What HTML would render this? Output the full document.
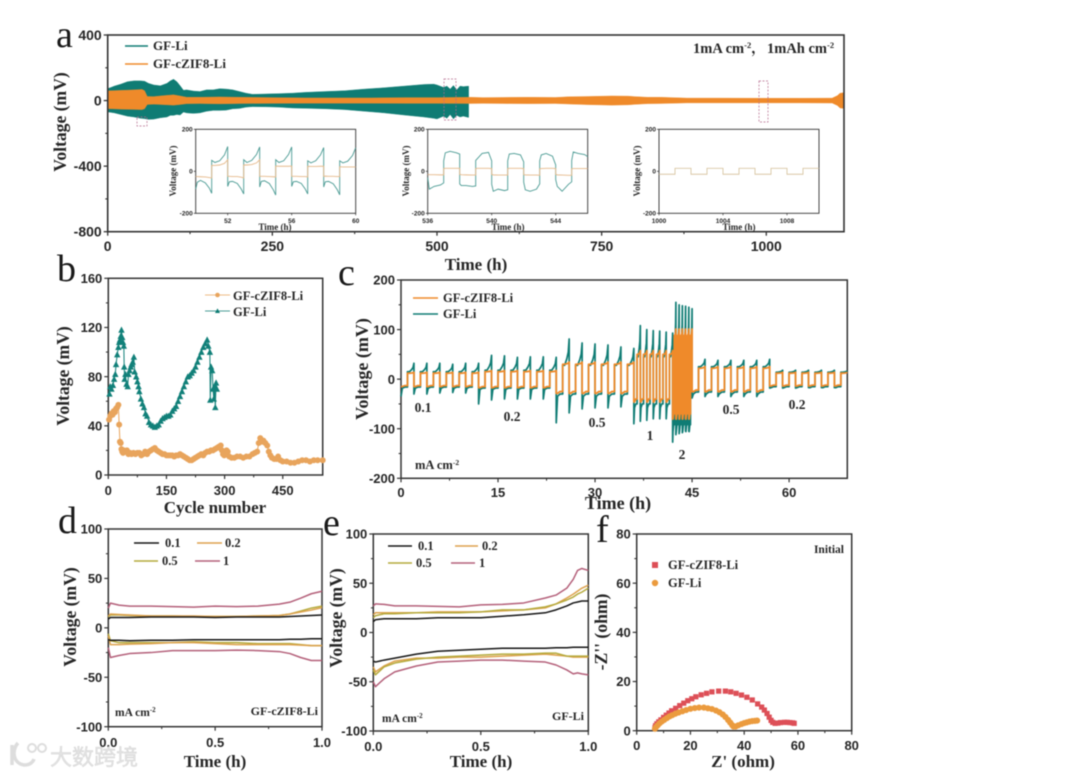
<!DOCTYPE html>
<html lang="en">
<head>
<meta charset="utf-8">
<title>Voltage profiles of GF-Li and GF-cZIF8-Li</title>
<style>
html,body{margin:0;padding:0;background:#fff}
svg{display:block;filter:blur(0.5px)}
.s{font-family:"Liberation Serif","Noto Serif CJK SC",serif;font-weight:bold;fill:#262626}
.letter{font-family:"Liberation Serif",serif;font-weight:normal;font-size:38px;fill:#1a1a1a}
.axt{font-size:17px}
.axy{font-size:17.6px}
.leg{font-size:12.5px}
.rate{font-size:13.5px}
.ins{font-size:9px}
</style>
</head>
<body>
<svg id="fig" width="1080" height="778" viewBox="0 0 1080 778" xmlns="http://www.w3.org/2000/svg">
<rect width="1080" height="778" fill="#fff"/>
<g id="layer"></g>

<text class="letter" x="56" y="47">a</text>
<text class="letter" x="57" y="281">b</text>
<text class="letter" x="338" y="285">c</text>
<text class="letter" x="58" y="533">d</text>
<text class="letter" x="323" y="535">e</text>
<text class="letter" x="596" y="542">f</text>

<!-- panel a text -->
<text class="s axy" transform="translate(66,122) rotate(-90)" text-anchor="middle">Voltage (mV)</text>
<text class="s axt" x="476" y="270" text-anchor="middle">Time (h)</text>
<line x1="125" x2="148" y1="46" y2="46" stroke="#0f7c74" stroke-width="1.5"/>
<text class="s" font-size="13" x="153" y="50">GF-Li</text>
<line x1="125" x2="148" y1="64" y2="64" stroke="#ef8a2a" stroke-width="1.5"/>
<text class="s" font-size="13" x="153" y="68">GF-cZIF8-Li</text>
<text class="s" font-size="14.5" x="693" y="53">1mA cm<tspan font-size="8.5" dy="-5">-2</tspan><tspan dy="5">，</tspan></text>
<text class="s" font-size="14.5" x="767" y="53">1mAh cm<tspan font-size="8.5" dy="-5">-2</tspan></text>

<text class="s ins" transform="translate(176,171) rotate(-90)" text-anchor="middle">Voltage (mV)</text>
<text class="s ins" x="275" y="230" text-anchor="middle">Time (h)</text>
<text class="s ins" transform="translate(409,171) rotate(-90)" text-anchor="middle">Voltage (mV)</text>
<text class="s ins" x="508" y="230" text-anchor="middle">Time (h)</text>
<text class="s ins" transform="translate(640,171) rotate(-90)" text-anchor="middle">Voltage (mV)</text>
<text class="s ins" x="739" y="230" text-anchor="middle">Time (h)</text>

<!-- panel b text -->
<text class="s axy" transform="translate(69,376) rotate(-90)" text-anchor="middle">Voltage (mV)</text>
<text class="s axt" x="215" y="513" text-anchor="middle">Cycle number</text>
<text class="s leg" x="233" y="300">GF-cZIF8-Li</text>
<text class="s leg" x="233" y="316">GF-Li</text>

<!-- panel c text -->
<text class="s" font-size="18" transform="translate(368,369) rotate(-90)" text-anchor="middle">Voltage (mV)</text>
<text class="s" font-size="18" x="618" y="509" text-anchor="middle">Time (h)</text>
<line x1="413" x2="438" y1="298" y2="298" stroke="#ef8a2a" stroke-width="1.6"/>
<text class="s leg" x="443" y="302">GF-cZIF8-Li</text>
<line x1="413" x2="438" y1="314" y2="314" stroke="#0f7c74" stroke-width="1.6"/>
<text class="s leg" x="443" y="318">GF-Li</text>
<text class="s rate" text-anchor="middle" x="423" y="412">0.1</text>
<text class="s rate" text-anchor="middle" x="512" y="421">0.2</text>
<text class="s rate" text-anchor="middle" x="597" y="427">0.5</text>
<text class="s rate" text-anchor="middle" x="650" y="440">1</text>
<text class="s rate" text-anchor="middle" x="682" y="459">2</text>
<text class="s rate" text-anchor="middle" x="731" y="414">0.5</text>
<text class="s rate" text-anchor="middle" x="797" y="409">0.2</text>
<text class="s" font-size="12.5" x="415" y="469">mA cm<tspan font-size="7.5" dy="-4">-2</tspan></text>

<!-- panel d text -->
<text class="s axy" transform="translate(76,617) rotate(-90)" text-anchor="middle">Voltage (mV)</text>
<text class="s axt" x="215" y="767" text-anchor="middle">Time (h)</text>
<line x1="134" x2="159" y1="543" y2="543" stroke="#161616" stroke-width="1.6"/>
<text class="s leg" x="165" y="547">0.1</text>
<line x1="197" x2="222" y1="543" y2="543" stroke="#dda24e" stroke-width="1.6"/>
<text class="s leg" x="225" y="547">0.2</text>
<line x1="134" x2="158" y1="561" y2="561" stroke="#b5aa3c" stroke-width="1.6"/>
<text class="s leg" x="162" y="565">0.5</text>
<line x1="195" x2="220" y1="561" y2="561" stroke="#b4607a" stroke-width="1.6"/>
<text class="s leg" x="223" y="565">1</text>
<text class="s" font-size="11.5" x="115" y="716">mA cm<tspan font-size="7" dy="-4">-2</tspan></text>
<text class="s" font-size="12" x="318" y="715" text-anchor="end">GF-cZIF8-Li</text>

<!-- panel e text -->
<text class="s axy" transform="translate(342,618) rotate(-90)" text-anchor="middle">Voltage (mV)</text>
<text class="s axt" x="481" y="767" text-anchor="middle">Time (h)</text>
<line x1="388" x2="412" y1="546" y2="546" stroke="#161616" stroke-width="1.6"/>
<text class="s leg" x="418" y="550">0.1</text>
<line x1="455" x2="478" y1="546" y2="546" stroke="#dda24e" stroke-width="1.6"/>
<text class="s leg" x="482" y="550">0.2</text>
<line x1="388" x2="412" y1="563" y2="563" stroke="#b5aa3c" stroke-width="1.6"/>
<text class="s leg" x="416" y="567">0.5</text>
<line x1="451" x2="475" y1="563" y2="563" stroke="#b4607a" stroke-width="1.6"/>
<text class="s leg" x="479" y="567">1</text>
<text class="s" font-size="11.5" x="382" y="722">mA cm<tspan font-size="7" dy="-4">-2</tspan></text>
<text class="s" font-size="12" x="584" y="720" text-anchor="end">GF-Li</text>

<!-- panel f text -->
<text class="s axy" transform="translate(607,632) rotate(-90)" text-anchor="middle">-Z'' (ohm)</text>
<text class="s axt" x="743" y="767" text-anchor="middle">Z' (ohm)</text>
<text class="s leg" x="668" y="569">GF-cZIF8-Li</text>
<text class="s leg" x="668" y="587">GF-Li</text>
<rect x="652" y="562" width="6" height="6" fill="#dd4f57"/>
<circle cx="655" cy="583" r="3.2" fill="#eb9b3e"/>
<text class="s" font-size="11.5" x="844" y="553" text-anchor="end">Initial</text>

<!-- watermark -->
<g opacity="0.95">
  <path d="M12 745 v20 M18 743 c-6 6 -6 20 6 22 c6 0 9 -3 10 -6" fill="none" stroke="#dcdcdc" stroke-width="3.5"/>
  <circle cx="32" cy="748" r="4" fill="none" stroke="#dcdcdc" stroke-width="2"/>
  <circle cx="42" cy="748" r="4" fill="none" stroke="#dcdcdc" stroke-width="2"/>
  <text x="50" y="765" font-size="22" fill="#e2e2e2" stroke="#d2d2d2" stroke-width="0.4" font-family="'Liberation Sans','Noto Sans CJK SC',sans-serif">大数跨境</text>
</g>
</svg>

<script>
// ---- panel a: envelope of the long cycling traces ----
const aTealTime = [0,5,10,20,30,40,50,56,62,70,80,90,95,100,105,110,115,120,130,140,150,160,170,180,190,200,210,220,240,260,280,300,330,360,390,420,450,480,495,500,510,515,520,525,530,535,540,548];
const aTealUpper = [73,80,88,100,115,120,120,118,105,95,90,105,120,130,115,90,63,65,58,55,65,65,72,70,65,55,45,38,40,42,45,50,55,60,70,78,88,98,100,95,80,88,70,92,65,88,85,88];
const aTealLower = [-69,-72,-75,-85,-95,-100,-108,-110,-115,-113,-105,-100,-90,-90,-85,-88,-70,-75,-78,-75,-65,-60,-60,-58,-50,-48,-40,-37,-38,-40,-45,-47,-50,-55,-65,-75,-88,-100,-108,-112,-95,-108,-85,-112,-90,-100,-95,-103];
const aOrangeTime = [0,20,40,52,56,60,70,85,100,110,120,140,170,200,250,300,350,400,450,500,550,570,600,640,680,700,730,765,790,800,820,840,880,930,1000,1050,1100,1108,1112,1118];
const aOrangeUpper = [59,62,65,68,60,25,24,30,35,28,20,20,22,20,18,16,16,16,18,18,20,18,19,20,19,23,25,28,27,24,20,20,15,15,14,14,15,30,45,48];
const aOrangeLower = [-49,-52,-54,-55,-50,-24,-22,-25,-28,-24,-19,-18,-20,-18,-17,-16,-16,-16,-17,-17,-18,-17,-18,-19,-18,-21,-25,-28,-26,-23,-19,-18,-14,-14,-14,-14,-15,-30,-45,-48];
const aXTicks = [0,250,500,750,1000];
const aYTicks = [-800,-400,0,400];

// ---- panel a insets ----
const i1Time = [50,50.1,50.3,50.6,50.85,51,51,51.2,51.5,51.8,52,52,52.1,52.3,52.6,52.85,53,53,53.2,53.5,53.8,54,54,54.1,54.3,54.6,54.85,55,55,55.2,55.5,55.8,56,56,56.1,56.3,56.6,56.85,57,57,57.2,57.5,57.8,58,58,58.1,58.3,58.6,58.85,59,59,59.2,59.5,59.8,60];
const i1Teal = [-85,-52,-43,-55,-80,-105,52,42,50,78,118,-72,-50,-48,-58,-85,-108,55,42,52,80,116,-75,-48,-45,-58,-88,-113,55,42,50,80,116,-72,-50,-48,-58,-85,-108,50,40,50,78,113,-75,-50,-48,-60,-88,-112,50,40,48,75,112];
const i1Orange = [-25,-25,-26,-27,-30,-32,28,28,30,38,55,-24,-24,-25,-25,-28,-32,30,30,32,40,55,-24,-24,-24,-25,-26,-27,25,24,24,24,25,-24,-24,-24,-25,-25,-27,24,23,23,24,24,-24,-23,-24,-24,-25,-25,22,21,21,21,21];
const i2Time = [536,536.1,536.4,536.8,537,537,537.1,537.4,537.8,538,538,538.1,538.4,538.8,539,539,539.1,539.4,539.8,540,540,540.1,540.4,540.8,541,541,541.1,541.4,541.8,542,542,542.1,542.4,542.8,543,543,543.1,543.4,543.8,544,544,544.1,544.4,544.8,545,545,545.1,545.4,545.8,546];
const i2Teal = [-30,-85,-72,-65,-55,50,88,95,88,82,-60,-68,-68,-72,-70,52,60,85,90,50,-62,-95,-85,-92,-88,50,82,85,78,45,-52,-88,-95,-85,-60,50,78,85,72,30,-40,-72,-95,-62,-50,52,92,85,80,70];
const i2Orange = [-15,-16,-16,-17,-17,13,14,14,14,14,-15,-16,-17,-18,-18,13,14,14,14,13,-15,-17,-18,-18,-18,13,14,14,14,13,-16,-17,-18,-18,-19,12,13,14,14,13,-15,-17,-18,-19,-19,12,13,13,13,13];
const i3Time = [1000,1001,1001,1002,1002,1003,1003,1004,1004,1005,1005,1006,1006,1007,1007,1008,1008,1009,1009,1010];
const i3Orange = [-14,-14,14,14,-14,-14,14,14,-14,-14,14,14,-14,-14,14,14,-14,-14,14,14];
const inset1XTicks = [52,56,60];
const inset2XTicks = [536,540,544];
const inset3XTicks = [1000,1004,1008];
const insetYTicks = [-200,0,200];

// ---- panel b: voltage hysteresis vs cycle ----
const bLiCycle = [3,5,8,12,15,18,20,23,26,28,30,32,34,36,38,40,41,42,44,47,50,52,55,58,60,63,66,68,72,75,78,80,84,88,92,96,100,105,110,115,120,125,130,135,140,145,150,155,160,165,170,175,180,185,190,195,200,205,210,215,220,225,230,235,240,245,250,255,258,262,263,265,268,270,272,274,276,278,280];
const bLiVoltage = [66,72,70,73,78,82,90,98,104,108,110,113,118,112,108,105,88,78,82,74,72,82,85,88,90,92,96,84,80,76,72,68,62,58,55,50,48,43,41,40,39,40,41,44,46,47,48,48,49,52,54,56,60,64,68,72,76,80,81,83,85,88,92,96,100,104,107,110,105,100,61,88,85,70,62,72,55,75,70];
const bZifCycle = [2,5,8,11,14,17,20,23,26,28,30,32,34,36,38,40,44,48,52,56,60,65,70,75,80,85,90,95,100,105,110,115,120,125,130,135,140,145,150,155,160,165,170,175,180,185,190,195,200,205,210,215,220,225,230,235,240,245,250,255,260,265,270,275,280,285,290,293,296,299,302,305,308,312,318,325,332,340,348,356,364,372,378,384,388,392,396,400,405,410,414,418,422,428,434,438,444,450,460,470,480,490,500,510,520,530,540,553];
const bZifVoltage = [45,48,50,49,52,51,54,55,57,41,27,26,21,19,18,20,19,20,17,18,17,18,17,18,18,16,17,19,17,19,20,21,22,20,19,18,17,17,16,16,16,16,15,16,16,17,16,15,14,13,12,12,13,14,15,16,17,16,18,19,19,20,20,21,22,23,24,20,17,16,18,20,19,15,14,14,15,15,14,15,15,17,18,19,26,30,27,28,26,24,19,16,14,13,13,15,12,11,11,10,10,11,12,12,11,12,12,12];
const bXTicks = [0,150,300,450];
const bYTicks = [0,40,80,120,160];

// ---- panel c: rate test, one entry per charge/discharge cycle ----
const cCycleStart = [0,2,4,6,8,10,12,14,16,18,20,22,24,26,28,30,32,34,36,37,38,39,40,41,42,42.5,43,43.5,44,44.5,45,47,49,51,53,55,57,59,61,63,65,67];
const cTealPeak = [32,32,32,30,32,32,48,47,44,45,45,44,81,73,71,69,65,62,108,100,98,97,95,93,155,150,148,147,145,142,40,38,38,38,38,40,18,18,18,18,18,17];
const cTealTrough = [-35,-30,-30,-28,-27,-28,-50,-42,-40,-40,-40,-40,-88,-68,-60,-58,-58,-56,-90,-85,-83,-80,-80,-80,-127,-112,-110,-108,-105,-105,-38,-35,-35,-35,-35,-35,-18,-18,-18,-17,-17,-17];
const cTealUpper = [15,15,15,15,15,15,18,18,18,18,18,18,28,28,28,28,28,28,45,45,45,45,45,45,72,72,72,72,72,72,25,25,25,25,25,25,14,14,14,14,14,14];
const cTealLower = [-16,-16,-16,-16,-16,-16,-18,-18,-18,-18,-18,-18,-30,-30,-30,-30,-30,-30,-50,-50,-50,-50,-50,-50,-92,-92,-92,-92,-92,-92,-26,-26,-26,-26,-26,-26,-15,-15,-15,-15,-15,-15];
const cZifUpper = [12,12,12,12,12,12,15,15,15,15,15,15,30,30,30,30,30,30,50,50,50,50,50,50,88,88,88,88,88,88,22,22,22,22,22,22,12,12,12,12,12,12];
const cZifLower = [-13,-13,-13,-13,-13,-13,-15,-15,-15,-15,-15,-15,-25,-25,-25,-25,-25,-25,-40,-40,-40,-40,-40,-40,-70,-70,-70,-70,-70,-70,-22,-22,-22,-22,-22,-22,-12,-12,-12,-12,-12,-12];
const cEndTime = 69;
const cXTicks = [0,15,30,45,60];
const cYTicks = [-200,-100,0,100,200];

// ---- panel d: GF-cZIF8-Li single-cycle voltage curves ----
const dTime = [0,0.01,0.05,0.1,0.2,0.3,0.4,0.5,0.6,0.7,0.8,0.85,0.9,0.95,1];
const d01Up = [9,10.5,10.5,10.5,11,11,11,10.5,11,11,11,11.5,12,12.5,13];
const d01Low = [-12,-12.5,-12.5,-13,-12.5,-12.5,-12,-12,-12,-12,-12,-11.5,-11.5,-11,-11];
const d02Up = [12,14,13.5,13,12,12,12,11.5,11.5,12,12.5,14,16,18,20.5];
const d02Low = [-8,-17,-17,-16.5,-16,-15,-15,-16,-17,-17,-17,-17,-17.5,-18,-18];
const d05Up = [11,13,13,12.5,12,12,11.5,11.5,11.5,12,12.5,14,17,20,22];
const d05Low = [-6,-13,-15,-15,-15,-15,-14,-15,-15,-16,-16,-16,-17,-18,-18];
const d1Up = [20,25,23,22,22,21.5,21,22,21.5,22,24,26,30,34.5,37];
const d1Low = [-20,-30,-28,-26,-25,-23,-23,-23,-22.5,-23,-24,-26,-30,-33,-33];
const dXTicks = ['0.0','0.5','1.0'];
const dYTicks = [-100,-50,0,50,100];

// ---- panel e: GF-Li single-cycle voltage curves ----
const eTime = [0,0.01,0.05,0.1,0.2,0.3,0.4,0.5,0.6,0.7,0.8,0.85,0.9,0.93,0.95,0.97,1];
const e01Up = [11,13,14,14,14,15,15,15,16.5,18,20,23,27,30,31,32,32];
const e01Low = [-29,-30,-28,-26,-22,-19,-18,-17,-16,-16,-16,-15.5,-15.5,-15,-15,-15,-15];
const e02Up = [18,20,20,20,20,21,21,21,22,23,25,29,35,39,42,45,48];
const e02Low = [-35,-40,-34,-29,-26,-26,-25,-25,-24,-23,-22,-23,-24,-25,-25,-25,-25];
const e05Up = [15,17,19,19,20,20,20,21,23,23,26,29,33,36,39,41,45];
const e05Low = [-38,-43,-35,-31,-27,-25,-24,-23,-22,-22,-21,-21,-24,-24,-24,-24,-24];
const e1Up = [27,29,28.5,27,27,26.5,26,28,28.5,30,35,38,45,54,63,65,63];
const e1Low = [-50,-55,-47,-40,-34,-30,-29,-28,-28,-29,-30,-33,-38,-42,-41,-42,-43];
const eXTicks = ['0.0','0.5','1.0'];
const eYTicks = [-100,-50,0,50,100];

// ---- panel f: Nyquist plot ----
const fZifRe = [6.8,7,7.5,8.2,9,10,11,12,13,14.5,16,17.5,19,20.5,22,24,26,28,30.5,33,35,37,39,41,43,45,46.5,47.5,48.5,49.3,50,50.6,51.5,52.5,53.5,55,56,57,58,58.6];
const fZifIm = [1.2,2,2.8,3.6,4.4,5.4,6.3,7.2,8.1,9.1,10.2,11.2,12.2,13,13.8,14.6,15.2,15.8,16.1,16.1,15.8,15.2,14.5,13.6,12.5,10.9,9.6,8.4,7,5.5,4.2,3.4,3,3.1,3.3,3.4,3.4,3.3,3.2,3];
const fLiRe = [6.8,7.2,7.8,8.5,9.3,10.2,11.2,12.2,13.2,14.4,15.6,17,18.4,20,21.6,23.2,25,26.5,28,29.5,30.8,32,33,34,34.8,35.5,36,36.8,37.8,39,40,41,42,43,44,44.8];
const fLiIm = [0.8,1.5,2.2,3,3.7,4.4,5.1,5.8,6.3,6.9,7.4,7.9,8.4,8.9,9.2,9.4,9.4,9.1,8.8,8.2,7.5,6.6,5.6,4.4,3.3,2.3,1.7,1.7,2.2,2.7,3.1,3.4,3.7,3.9,4,4.1];
const fTicks = [0,20,40,60,80];

const SVGNS = 'http://www.w3.org/2000/svg';
const layer = document.getElementById('layer');

function mk(tag, attrs, name, parent) {
  const el = document.createElementNS(SVGNS, tag);
  for (const k in attrs) el.setAttribute(k, attrs[k]);
  
  
  (parent || layer).appendChild(el);
  return el;
}

function axes(c) {
  const sx = v => c.l + (v - c.xMin) / (c.xMax - c.xMin) * (c.r - c.l);
  const sy = v => c.b - (v - c.yMin) / (c.yMax - c.yMin) * (c.b - c.t);
  const g = mk('g', {}, c.id + '-axes');
  const sw = c.sw || 1.5;
  const tl = c.tick || 4;
  const num = v => Number(v);
  c.xt.forEach((v, i) => {
    const n = num(v);
    mk('line', {x1: sx(n), x2: sx(n), y1: c.b, y2: c.b + tl, stroke: '#333', 'stroke-width': sw * 0.8}, c.id + '-x-tick', g);
    const lab = mk('text', {x: sx(n), y: c.xLabelY, 'text-anchor': 'middle', 'font-size': c.fs, 'font-weight': 'bold', 'font-family': '"Liberation Sans",sans-serif', fill: '#262626'}, c.id + '-x-tick-label', g);
    lab.textContent = v;
    if (i < c.xt.length - 1 && !c.noMinor) {
      const m = (n + num(c.xt[i + 1])) / 2;
      mk('line', {x1: sx(m), x2: sx(m), y1: c.b, y2: c.b + tl * 0.6, stroke: '#333', 'stroke-width': sw * 0.7}, c.id + '-x-minor-tick', g);
    }
  });
  c.yt.forEach((v, i) => {
    mk('line', {x1: c.l - tl, x2: c.l, y1: sy(v), y2: sy(v), stroke: '#333', 'stroke-width': sw * 0.8}, c.id + '-y-tick', g);
    const lab = mk('text', {x: c.l - tl - (c.pad === undefined ? 2 : c.pad), y: sy(v) + c.fs * 0.36, 'text-anchor': 'end', 'font-size': c.fs, 'font-weight': 'bold', 'font-family': '"Liberation Sans",sans-serif', fill: '#262626'}, c.id + '-y-tick-label', g);
    lab.textContent = v;
    if (i < c.yt.length - 1 && !c.noMinor) {
      const m = (v + c.yt[i + 1]) / 2;
      mk('line', {x1: c.l - tl * 0.6, x2: c.l, y1: sy(m), y2: sy(m), stroke: '#333', 'stroke-width': sw * 0.7}, c.id + '-y-minor-tick', g);
    }
  });
  mk('rect', {x: c.l, y: c.t, width: c.r - c.l, height: c.b - c.t, fill: 'none', stroke: '#333', 'stroke-width': sw}, c.id + '-frame', g);
  return {x: sx, y: sy};
}

function linePath(xs, ys, ax) {
  let d = '';
  xs.forEach((v, i) => { d += (i ? 'L' : 'M') + ax.x(v).toFixed(2) + ' ' + ax.y(ys[i]).toFixed(2); });
  return d;
}
function bandPath(xs, up, low, ax) {
  let d = linePath(xs, up, ax);
  for (let i = xs.length - 1; i >= 0; i--) d += 'L' + ax.x(xs[i]).toFixed(2) + ' ' + ax.y(low[i]).toFixed(2);
  return d + 'Z';
}

// ---------- panel a ----------
const aAx = {x: null, y: null};
(function () {
  const cfg = {id:'a', l:107.7, r:844, t:35, b:231.7, xMin:0, xMax:1118, yMin:-800, yMax:400, xt:aXTicks, yt:aYTicks, xLabelY:251, fs:14, sw:1.6};
  const sx = v => cfg.l + v / cfg.xMax * (cfg.r - cfg.l);
  const sy = v => cfg.b - (v + 800) / 1200 * (cfg.b - cfg.t);
  aAx.x = sx; aAx.y = sy;
  mk('path', {d: bandPath(aTealTime, aTealUpper, aTealLower, aAx), fill: '#0f7c74', stroke: '#0f7c74', 'stroke-width': 0.4}, 'a-series-gf-li');
  mk('path', {d: bandPath(aOrangeTime, aOrangeUpper, aOrangeLower, aAx), fill: '#ef8a2a', stroke: '#ef8a2a', 'stroke-width': 0.4}, 'a-series-gf-czif8-li');
  const boxes = [[137,117,10,9],[444,79,12,41],[759,81,9,41]];
  boxes.forEach(b => {
    mk('rect', {x:b[0], y:b[1], width:b[2], height:b[3], fill:'none', stroke:'#b4688c', 'stroke-width':0.7, 'stroke-dasharray':'2 1.5'}, 'a-zoom-region-box');
  });
  axes(cfg);
})();

function inset(id, l, xMin, xTicks, series) {
  const ax = axes({id:id, l:l, r:l+160, t:129.3, b:213.3, xMin:xMin, xMax:xMin+10, yMin:-200, yMax:200, xt:xTicks, yt:insetYTicks, xLabelY:223, fs:6.5, sw:0.9, tick:2, pad:1, noMinor:true});
  series.forEach(s => {
    mk('path', {d: linePath(s.x, s.y, ax), fill:'none', stroke:s.c, 'stroke-width':0.9}, id + '-' + s.n);
  });
}
inset('inset1', 195.7, 50, inset1XTicks, [{x:i1Time,y:i1Teal,c:'#4a9a93',n:'series-gf-li'},{x:i1Time,y:i1Orange,c:'#e6b98a',n:'series-gf-czif8-li'}]);
inset('inset2', 427.7, 536, inset2XTicks, [{x:i2Time,y:i2Teal,c:'#4a9a93',n:'series-gf-li'},{x:i2Time,y:i2Orange,c:'#e6b98a',n:'series-gf-czif8-li'}]);
inset('inset3', 659, 1000, inset3XTicks, [{x:i3Time,y:i3Orange,c:'#d9c6a4',n:'series-gf-czif8-li'}]);

// ---------- panel b ----------
(function () {
  const ax = axes({id:'b', l:108.3, r:322.7, t:278.3, b:475, xMin:0, xMax:553, yMin:0, yMax:160, xt:bXTicks, yt:bYTicks, xLabelY:495, fs:13, sw:1.5});
  mk('path', {d: linePath(bLiCycle, bLiVoltage, ax), fill:'none', stroke:'#118079', 'stroke-width':1}, 'b-line-gf-li');
  bLiCycle.forEach((c, i) => {
    const x = ax.x(c), y = ax.y(bLiVoltage[i]);
    mk('path', {d:`M${x.toFixed(2)} ${(y-3.4).toFixed(2)}l3.2 6.2h-6.4z`, fill:'#118079'}, 'b-point-gf-li');
  });
  mk('path', {d: linePath(bZifCycle, bZifVoltage, ax), fill:'none', stroke:'#e8a45c', 'stroke-width':1}, 'b-line-gf-czif8-li');
  bZifCycle.forEach((c, i) => {
    mk('circle', {cx: ax.x(c), cy: ax.y(bZifVoltage[i]), r: 3, fill:'#e8a45c'}, 'b-point-gf-czif8-li');
  });
  mk('line', {x1:205, x2:230, y1:295, y2:295, stroke:'#e8a45c', 'stroke-width':0.7}, 'b-legend-line-gf-czif8-li');
  mk('circle', {cx:217.5, cy:295, r:2.3, fill:'#e8a45c'}, 'b-legend-marker-gf-czif8-li');
  mk('line', {x1:205, x2:230, y1:311, y2:311, stroke:'#0f7c74', 'stroke-width':0.7}, 'b-legend-line-gf-li');
  mk('path', {d:'M217.5 308.4l2.5 4.6h-5z', fill:'#0f7c74'}, 'b-legend-marker-gf-li');
})();

// ---------- panel c ----------
function cyclePath(peak, trough, up, low, ax) {
  let d = '';
  cCycleStart.forEach((t0, i) => {
    const t1 = i + 1 < cCycleStart.length ? cCycleStart[i + 1] : cEndTime;
    const w = t1 - t0;
    const pts = [
      [t0, trough[i]], [t0 + 0.1 * w, low[i] * 1.15], [t0 + 0.3 * w, low[i]], [t0 + 0.5 * w, low[i]],
      [t0 + 0.5 * w, up[i]], [t0 + 0.65 * w, up[i]], [t0 + 0.82 * w, (up[i] * 3 + peak[i]) / 4],
      [t0 + 0.93 * w, (up[i] + peak[i]) / 2], [t1, peak[i]]
    ];
    pts.forEach((p, j) => { d += (i === 0 && j === 0 ? 'M' : 'L') + ax.x(p[0]).toFixed(2) + ' ' + ax.y(p[1]).toFixed(2); });
  });
  return d;
}
(function () {
  const ax = axes({id:'c', l:401, r:847.3, t:280, b:478.3, xMin:0, xMax:69, yMin:-200, yMax:200, xt:cXTicks, yt:cYTicks, xLabelY:497, fs:13, sw:1.5});
  mk('path', {d: cyclePath(cTealPeak, cTealTrough, cTealUpper, cTealLower, ax), fill:'none', stroke:'#0f7c74', 'stroke-width':1.7, 'stroke-linejoin':'round'}, 'c-series-gf-li');
  const zifPeak = cZifUpper.map(v => v * 1.15);
  const zifTrough = cZifLower.map(v => v * 1.15);
  mk('path', {d: cyclePath(zifPeak, zifTrough, cZifUpper, cZifLower, ax), fill:'none', stroke:'#ef8a2a', 'stroke-width':1.8, 'stroke-linejoin':'round'}, 'c-series-gf-czif8-li');
})();

// ---------- panels d, e ----------
const curveColors = {'0-1':'#161616','0-2':'#dda24e','0-5':'#b5aa3c','1':'#b4607a'};
function curves(id, time, sets, ax) {
  sets.forEach(s => {
    mk('path', {d: linePath(time, s.y, ax), fill:'none', stroke: curveColors[s.k], 'stroke-width':1.5, 'stroke-linejoin':'round'}, id + '-curve-' + s.k + '-' + s.p);
  });
}
(function () {
  const ax = axes({id:'d', l:108.3, r:322, t:529, b:726.7, xMin:0, xMax:1, yMin:-100, yMax:100, xt:dXTicks, yt:dYTicks, xLabelY:747, fs:13, sw:1.5});
  curves('d', dTime, [
    {k:'1',y:d1Up,p:'charge'},{k:'1',y:d1Low,p:'discharge'},
    {k:'0-5',y:d05Up,p:'charge'},{k:'0-5',y:d05Low,p:'discharge'},
    {k:'0-2',y:d02Up,p:'charge'},{k:'0-2',y:d02Low,p:'discharge'},
    {k:'0-1',y:d01Up,p:'charge'},{k:'0-1',y:d01Low,p:'discharge'}
  ], ax);
  const ax2 = axes({id:'e', l:373.3, r:588.3, t:534, b:731, xMin:0, xMax:1, yMin:-100, yMax:100, xt:eXTicks, yt:eYTicks, xLabelY:751, fs:13, sw:1.5});
  curves('e', eTime, [
    {k:'1',y:e1Up,p:'charge'},{k:'1',y:e1Low,p:'discharge'},
    {k:'0-2',y:e02Up,p:'charge'},{k:'0-2',y:e02Low,p:'discharge'},
    {k:'0-5',y:e05Up,p:'charge'},{k:'0-5',y:e05Low,p:'discharge'},
    {k:'0-1',y:e01Up,p:'charge'},{k:'0-1',y:e01Low,p:'discharge'}
  ], ax2);
})();

// ---------- panel f ----------
(function () {
  const ax = axes({id:'f', l:636.7, r:851.7, t:534, b:730.7, xMin:0, xMax:80, yMin:0, yMax:80, xt:fTicks, yt:fTicks, xLabelY:750, fs:13, sw:1.5});
  fZifRe.forEach((v, i) => {
    mk('rect', {x: ax.x(v) - 2.6, y: ax.y(fZifIm[i]) - 2.6, width:5.2, height:5.2, fill:'#dd4f57'}, 'f-point-gf-czif8-li');
  });
  fLiRe.forEach((v, i) => {
    mk('circle', {cx: ax.x(v), cy: ax.y(fLiIm[i]), r:3.1, fill:'#eb9b3e'}, 'f-point-gf-li');
  });
})();
</script>
</body>
</html>
